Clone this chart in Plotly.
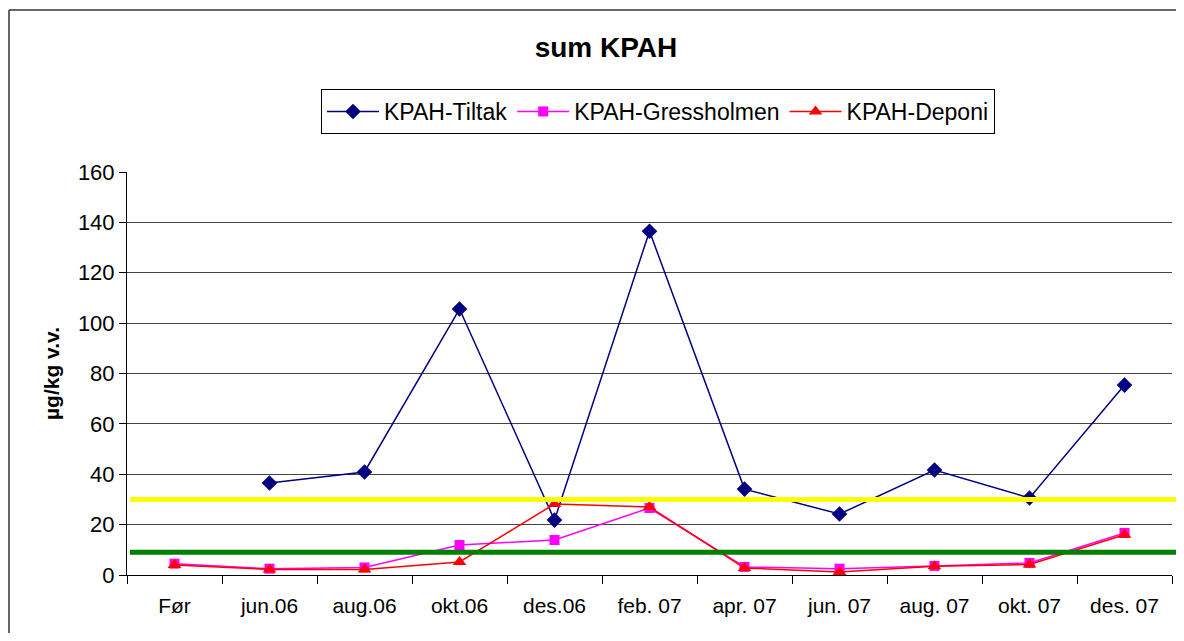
import plotly.graph_objects as go

categories = ["Før", "jun.06", "aug.06", "okt.06", "des.06", "feb. 07", "apr. 07",
              "jun. 07", "aug. 07", "okt. 07", "des. 07"]
tiltak = [None, 36.5, 40.9, 105.6, 21.8, 136.5, 34.1, 24.2, 41.7, 30.6, 75.4]
gressholmen = [4.5, 2.5, 3.0, 11.9, 13.9, 26.6, 3.2, 2.5, 3.6, 4.8, 16.7]
deponi = [4.0, 2.2, 2.2, 5.2, 28.2, 27.0, 2.8, 1.2, 3.5, 4.2, 16.0]
yellow_limit = 30
green_limit = 9

# page is offset by 8px body margin; work in page coordinates, convert to figure
OFF = 8
W, H = 1184 - OFF, 641 - 2 * OFF
L, T = 127 - OFF, 172 - OFF
R = W - (1172 - OFF)
B = H - (575 - OFF)
pw, ph = W - L - R, H - T - B

def px(x):  # page x -> paper x
    return (x - OFF - L) / pw

def py(y):  # page y -> paper y
    return (H - B - (y - OFF)) / ph

font = "Liberation Sans, Arial, sans-serif"

fig = go.Figure()
fig.add_trace(go.Scatter(x=categories, y=tiltak, name="KPAH-Tiltak", mode="lines+markers",
                         line=dict(color="#000080", width=1.5),
                         marker=dict(symbol="diamond", size=12, color="#000080"),
                         connectgaps=False))
fig.add_trace(go.Scatter(x=categories, y=gressholmen, name="KPAH-Gressholmen", mode="lines+markers",
                         line=dict(color="#FF00FF", width=1.5),
                         marker=dict(symbol="square", size=10, color="#FF00FF")))
fig.add_trace(go.Scatter(x=categories, y=deponi, name="KPAH-Deponi", mode="lines+markers",
                         line=dict(color="#FF0000", width=1.5),
                         marker=dict(symbol="triangle-up", size=12, color="#FF0000")))

shapes = [
    dict(type="line", xref="paper", yref="y", x0=px(130), x1=px(1190), y0=yellow_limit, y1=yellow_limit,
         line=dict(color="#FFFF00", width=5), layer="above"),
    dict(type="line", xref="paper", yref="y", x0=px(130), x1=px(1190), y0=green_limit, y1=green_limit,
         line=dict(color="#008000", width=5), layer="above"),
    # outer chart frame: only top and left edges are visible in the reference
    dict(type="line", xref="paper", yref="paper", x0=px(9), x1=px(1200), y0=py(10), y1=py(10),
         line=dict(color="#333333", width=1.5)),
    dict(type="line", xref="paper", yref="paper", x0=px(9), x1=px(9), y0=py(10), y1=py(650),
         line=dict(color="#333333", width=1.5)),
]

fig.update_layout(
    width=W, height=H,
    margin=dict(l=L, r=R, t=T, b=B),
    paper_bgcolor="white", plot_bgcolor="white",
    font=dict(family=font, size=21, color="black"),
    title=dict(text="<b>sum KPAH</b>", xref="container", x=(606 - OFF) / W, xanchor="center",
               yref="container", y=1 - (47 - OFF) / H, yanchor="middle",
               font=dict(size=28, family=font)),
    legend=dict(orientation="h", x=px(658), xanchor="center", y=py(89), yanchor="top",
                bordercolor="black", borderwidth=1, font=dict(size=23, family=font),
                itemwidth=52, tracegroupgap=0),
    shapes=shapes,
    showlegend=True,
)
fig.update_xaxes(type="category", categoryorder="array", categoryarray=categories,
                 range=[-0.5, len(categories) - 0.5],
                 showline=True, linecolor="black", linewidth=1,
                 ticks="outside", tickson="boundaries", ticklen=8, tickcolor="black",
                 showgrid=False, tickfont=dict(size=21), ticklabelstandoff=12)
fig.update_yaxes(range=[0, 160], dtick=20, showline=True, linecolor="black", linewidth=1,
                 ticks="outside", ticklen=7, tickcolor="black",
                 showgrid=True, gridcolor="#444444", gridwidth=1, zeroline=False,
                 tickfont=dict(size=22),
                 title=dict(text="<b>µg/kg v.v.</b>", font=dict(size=21), standoff=12))

fig.write_html("out.html")
